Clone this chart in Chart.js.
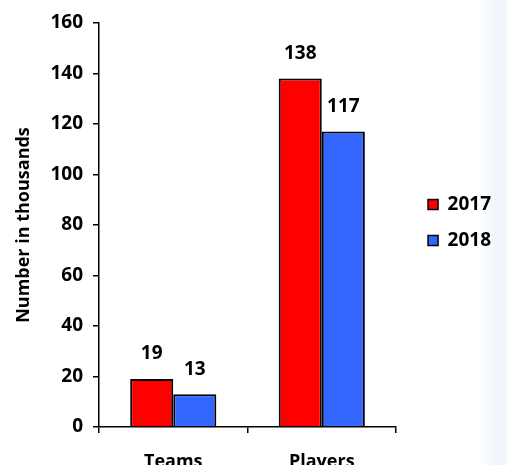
<!DOCTYPE html>
<html><head><meta charset="utf-8">
<script src="https://cdn.jsdelivr.net/npm/chart.js@4"></script>
<style>
html,body{margin:0;padding:0;overflow:hidden;width:507px;height:465px;background:#fff;}
#bg{position:absolute;left:0;top:0;width:507px;height:465px;background:linear-gradient(to right,#fff 0,#fff 478px,#f1f6fb 495px,#eef5fb 507px);}
#wrap{position:absolute;left:0;top:0;width:507px;height:478px;}
</style></head><body><div id="bg"></div><div id="wrap"><canvas id="c" width="507" height="478"></canvas></div>
<script>
const categories = ['Teams', 'Players'];
const seriesNames = ['2017', '2018'];
const values2017 = [19, 138];
const values2018 = [13, 117];
const yMin = 0, yMax = 160, yStep = 20;
const yTitle = 'Number in thousands';

const FONT = '"Open Sans", sans-serif';

const valueLabels = {
  id: 'valueLabels',
  afterDatasetsDraw(chart) {
    const ctx = chart.ctx;
    ctx.save();
    ctx.font = 'bold 19px ' + FONT;
    ctx.fillStyle = '#000';
    ctx.textAlign = 'center';
    ctx.textBaseline = 'middle';
    chart.data.datasets.forEach((ds, i) => {
      chart.getDatasetMeta(i).data.forEach((bar, j) => {
        ctx.fillText(String(ds.data[j]), bar.x, bar.y - 25);
      });
    });
    ctx.restore();
  }
};

const legendShift = {
  id: 'legendShift',
  afterLayout(chart) {
    const L = chart.legend;
    if (!L) return;
    const dx = 15, dy = -28;
    L.left += dx; L.right += dx;
    L.top += dy; L.bottom += dy;
  }
};

new Chart(document.getElementById('c'), {
  type: 'bar',
  data: {
    labels: categories,
    datasets: [
      { label: seriesNames[0], data: values2017, backgroundColor: '#ff0000', borderColor: '#000', borderWidth: 2 },
      { label: seriesNames[1], data: values2018, backgroundColor: '#3366ff', borderColor: '#000', borderWidth: 2 }
    ]
  },
  options: {
    responsive: false,
    animation: false,
    devicePixelRatio: 1,
    layout: { padding: { top: 23, left: 13, right: 21, bottom: 0 } },
    datasets: { bar: { categoryPercentage: 0.58, barPercentage: 1.0 } },
    plugins: {
      tooltip: { enabled: false },
      legend: {
        position: 'right',
        align: 'center',
        labels: {
          boxWidth: 10, boxHeight: 10, padding: 17,
          color: '#000',
          font: { family: FONT, size: 19, weight: 'bold' },
          generateLabels(chart) {
            return chart.data.datasets.map((ds, i) => ({
              text: ds.label, fillStyle: ds.backgroundColor, strokeStyle: '#000', lineWidth: 1.5, datasetIndex: i, hidden: false
            }));
          }
        }
      }
    },
    scales: {
      x: {
        grid: { display: true, offset: true, drawOnChartArea: false, drawTicks: true, tickLength: 6, color: '#000', lineWidth: 1.5 },
        border: { display: true, color: '#000', width: 1.5 },
        ticks: { color: '#000', font: { family: FONT, size: 18, weight: 'bold' }, padding: 18, maxRotation: 0 },
        afterFit(scale) { scale.height = 478 - 427; }
      },
      y: {
        min: yMin, max: yMax,
        ticks: { stepSize: yStep, color: '#000', font: { family: FONT, size: 19, weight: 'bold' }, padding: 10 },
        grid: { display: true, drawOnChartArea: false, drawTicks: true, tickLength: 6, color: '#000', lineWidth: 1.5 },
        border: { display: true, color: '#000', width: 1.5 },
        title: { display: true, text: yTitle, color: '#000', font: { family: FONT, size: 18, weight: 'bold' }, padding: { top: 0, bottom: 4 } },
        afterFit(scale) { scale.width = 86; }
      }
    }
  },
  plugins: [valueLabels, legendShift]
});
</script>
</body></html>
